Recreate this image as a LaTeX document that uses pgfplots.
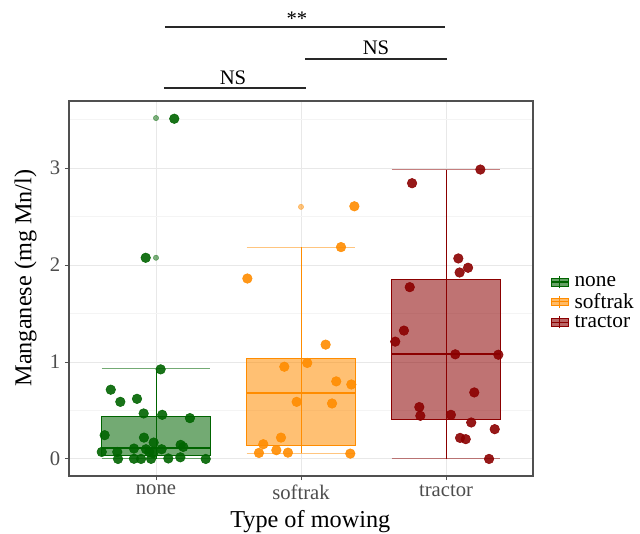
\documentclass[border=0pt]{standalone}
\usepackage{pgfplots}
\usepackage{pgfplotstable}
\pgfplotsset{compat=1.18}
\usepackage{fontspec}
\setmainfont{Liberation Serif}
\definecolor{cG}{RGB}{0,100,0}
\definecolor{cO}{RGB}{255,140,0}
\definecolor{cR}{RGB}{139,0,0}
\definecolor{gridmaj}{RGB}{232,232,232}
\definecolor{gridmin}{RGB}{244,244,244}
\definecolor{frame}{RGB}{80,80,80}
\definecolor{ticktxt}{RGB}{77,77,77}
\definecolor{sig}{RGB}{40,40,40}

\pgfplotstableread{
x y
1.126 3.509
0.929 2.075
1.032 0.924
0.688 0.714
0.754 0.589
0.869 0.620
0.915 0.469
1.043 0.455
1.234 0.421
0.646 0.245
0.917 0.220
0.984 0.169
0.848 0.107
0.931 0.100
1.039 0.100
1.170 0.145
1.188 0.124
0.626 0.072
0.733 0.072
0.954 0.072
0.981 0.059
0.738 0.000
0.848 0.002
0.897 0.000
0.966 0.001
1.085 0.005
1.168 0.017
1.343 0.000
}\noneTable

\pgfplotstableread{
x y
2.368 2.606
2.276 2.185
1.630 1.861
2.170 1.179
2.043 0.990
1.885 0.951
2.243 0.800
2.347 0.768
1.970 0.589
2.214 0.572
1.862 0.220
1.740 0.152
1.830 0.090
1.710 0.062
1.910 0.065
2.340 0.055
}\softTable

\pgfplotstableread{
x y
3.237 2.985
2.766 2.844
3.085 2.068
3.152 1.972
3.094 1.923
2.750 1.772
2.710 1.324
2.650 1.210
3.064 1.079
3.361 1.075
3.195 0.686
2.816 0.535
2.823 0.445
3.034 0.455
3.174 0.376
3.336 0.307
3.097 0.217
3.136 0.204
3.297 0.000
}\tractTable

\begin{document}
\begin{tikzpicture}
\path[use as bounding box] (-51.75pt,-42.75pt) rectangle (428.25pt,357pt);
\begin{axis}[
  at={(0,0)}, anchor=south west,
  scale only axis, width=348pt, height=281.25pt,
  xmin=0.4, xmax=3.6, ymin=-0.176, ymax=3.692,
  xtick={1,2,3}, xticklabels={none,softrak,tractor},
  ytick={0,1,2,3}, minor ytick={0.5,1.5,2.5,3.5},
  xmajorgrids, ymajorgrids, yminorgrids,
  major grid style={gridmaj, line width=0.7pt},
  minor grid style={gridmin, line width=0.5pt},
  axis line style={frame, line width=1pt},
  tick align=outside, major tick length=3pt, minor tick length=0pt,
  tick style={frame, line width=0.7pt},
  xtick pos=bottom, ytick pos=left,
  ticklabel style={font=\fontsize{15.5}{15.5}\selectfont, text=ticktxt},
  /pgf/number format/assume math mode=true,
  xlabel={Type of mowing}, ylabel={Manganese (mg Mn/l)},
  label style={font=\fontsize{18.2}{18.2}\selectfont},
  xlabel style={at={(axis description cs:0.52,-0.136)}, anchor=base},
  ylabel style={at={(axis description cs:-0.081,0.528)}, anchor=base},
  clip=false,
  legend style={at={(axis description cs:1.037,0.462)}, anchor=west, draw=none, fill=none,
    font=\fontsize{16}{16}\selectfont, row sep=2.2pt, inner sep=0pt, nodes={inner sep=0.8pt},
    /tikz/every odd column/.append style={column sep=3.5pt}},
  legend cell align=left,
]
% ---- none ----
\addplot[cG, opacity=0.55, line width=0.8pt, forget plot] coordinates {(0.625,0.93) (1.375,0.93)};
\addplot[cG, opacity=0.55, line width=0.8pt, forget plot] coordinates {(0.625,0) (1.375,0)};
\addplot[cG, line width=0.65pt, forget plot] coordinates {(1,0) (1,0.93)};
\addplot[draw=cG, fill=cG, fill opacity=0.55, line width=0.8pt, forget plot] coordinates {(0.625,0.04) (1.375,0.04) (1.375,0.434) (0.625,0.434)} -- cycle;
\addplot[cG, line width=1.6pt, forget plot] coordinates {(0.625,0.114) (1.375,0.114)};
% ---- softrak ----
\addplot[cO, opacity=0.5, line width=0.8pt, forget plot] coordinates {(1.625,2.185) (2.375,2.185)};
\addplot[cO, opacity=0.5, line width=0.8pt, forget plot] coordinates {(1.625,0.059) (2.375,0.059)};
\addplot[cO, line width=0.65pt, forget plot] coordinates {(2,0.059) (2,2.185)};
\addplot[draw=cO, fill=cO, fill opacity=0.55, line width=0.8pt, forget plot] coordinates {(1.625,0.141) (2.375,0.141) (2.375,1.037) (1.625,1.037)} -- cycle;
\addplot[cO, line width=1.6pt, forget plot] coordinates {(1.625,0.683) (2.375,0.683)};
% ---- tractor ----
\addplot[cR, opacity=0.5, line width=0.8pt, forget plot] coordinates {(2.625,2.985) (3.375,2.985)};
\addplot[cR, opacity=0.5, line width=0.8pt, forget plot] coordinates {(2.625,0.003) (3.375,0.003)};
\addplot[cR, line width=0.65pt, forget plot] coordinates {(3,0.003) (3,2.985)};
\addplot[draw=cR, fill=cR, fill opacity=0.55, line width=0.8pt, forget plot] coordinates {(2.625,0.41) (3.375,0.41) (3.375,1.851) (2.625,1.851)} -- cycle;
\addplot[cR, line width=1.6pt, forget plot] coordinates {(2.625,1.083) (3.375,1.083)};
% ---- outliers (boxplot) ----
\addplot[only marks, mark=*, mark size=2pt, cG, opacity=0.5, mark options={draw=none}, forget plot] coordinates {(1,3.516) (1,2.075)};
\addplot[only marks, mark=*, mark size=2pt, cO, opacity=0.5, mark options={draw=none}, forget plot] coordinates {(2,2.60)};
% ---- jittered points ----
\addplot[only marks, mark=*, mark size=3.6pt, cG, opacity=0.9, mark options={draw=none}, forget plot] table {\noneTable};
\addplot[only marks, mark=*, mark size=3.6pt, cO, opacity=0.9, mark options={draw=none}, forget plot] table {\softTable};
\addplot[only marks, mark=*, mark size=3.6pt, cR, opacity=0.9, mark options={draw=none}, forget plot] table {\tractTable};
% ---- significance ----
\draw[sig, line width=1.4pt] (axis cs:1.062,4.459) -- (axis cs:2.993,4.459);
\draw[sig, line width=1.4pt] (axis cs:2.028,4.128) -- (axis cs:3.005,4.128);
\draw[sig, line width=1.4pt] (axis cs:1.055,3.822) -- (axis cs:2.034,3.822);
\node[anchor=base, inner sep=0pt, font=\fontsize{15.5}{15.5}\selectfont] at (axis cs:1.972,4.47) {**};
\node[anchor=base, inner sep=0pt, font=\fontsize{15.5}{15.5}\selectfont] at (axis cs:2.517,4.17) {NS};
\node[anchor=base, inner sep=0pt, font=\fontsize{15.5}{15.5}\selectfont] at (axis cs:1.531,3.865) {NS};
% ---- legend ----
\addlegendimage{legend image code/.code={
  \fill[cG, fill opacity=0.6] (0pt,-2.9pt) rectangle (12.75pt,2.9pt);
  \draw[cG, line width=0.6pt] (0pt,-2.9pt) rectangle (12.75pt,2.9pt);
  \draw[cG, line width=1pt] (0pt,0pt) -- (12.75pt,0pt);
  \draw[cG, line width=0.6pt] (6.375pt,-4.6pt) -- (6.375pt,4.6pt);}}
\addlegendentry{none}
\addlegendimage{legend image code/.code={
  \fill[cO, fill opacity=0.6] (0pt,-2.9pt) rectangle (12.75pt,2.9pt);
  \draw[cO, line width=0.6pt] (0pt,-2.9pt) rectangle (12.75pt,2.9pt);
  \draw[cO, line width=1pt] (0pt,0pt) -- (12.75pt,0pt);
  \draw[cO, line width=0.6pt] (6.375pt,-4.6pt) -- (6.375pt,4.6pt);}}
\addlegendentry{softrak}
\addlegendimage{legend image code/.code={
  \fill[cR, fill opacity=0.6] (0pt,-2.9pt) rectangle (12.75pt,2.9pt);
  \draw[cR, line width=0.6pt] (0pt,-2.9pt) rectangle (12.75pt,2.9pt);
  \draw[cR, line width=1pt] (0pt,0pt) -- (12.75pt,0pt);
  \draw[cR, line width=0.6pt] (6.375pt,-4.6pt) -- (6.375pt,4.6pt);}}
\addlegendentry{tractor}
\end{axis}
\end{tikzpicture}
\end{document}
